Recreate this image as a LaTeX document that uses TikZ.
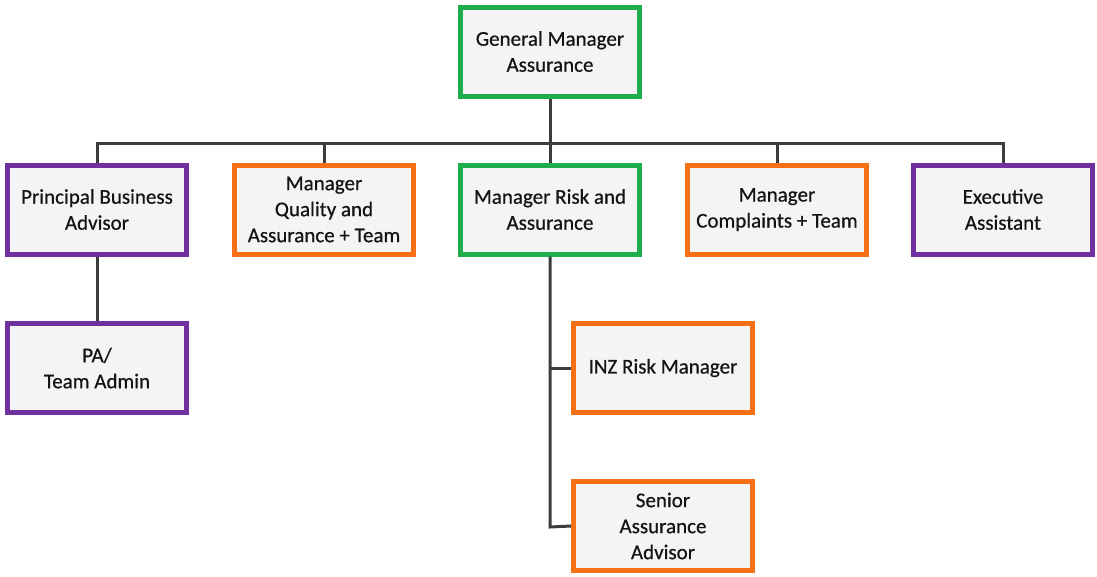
\documentclass[tikz,border=0pt]{standalone}
\usepackage{fontspec}
\setmainfont{Carlito}
\newfontfamily\boxfont[FakeBold=0.6]{Carlito}
\usetikzlibrary{shadows}
\definecolor{gmgreen}{RGB}{30,172,76}
\definecolor{mgorange}{RGB}{245,112,20}
\definecolor{mgpurple}{RGB}{112,48,160}
\definecolor{boxfill}{RGB}{244,244,244}
\definecolor{linegray}{RGB}{60,60,60}
\definecolor{textdark}{RGB}{20,20,20}
\tikzset{
  x=1pt, y=-1pt,
  box/.style={draw, line width=5pt, fill=boxfill, minimum width=179pt, minimum height=89pt,
    align=center, inner sep=2pt, text=textdark, font=\boxfont\fontsize{21}{26}\selectfont,
    drop shadow={shadow xshift=2pt, shadow yshift=-2pt, opacity=0.25}},
  gbox/.style={box, draw=gmgreen},
  obox/.style={box, draw=mgorange},
  pbox/.style={box, draw=mgpurple},
  conn/.style={draw=linegray, line width=3pt}
}
\begin{document}
\begin{tikzpicture}
\useasboundingbox (0,0) rectangle (1097,576);
\node[gbox] (gm) at (550,51.5) {General Manager\\Assurance};
\node[pbox] (pba) at (97,209.5) {Principal Business\\Advisor};
\node[obox] (mqa) at (324,209.5) {Manager\\Quality and\\Assurance + Team};
\node[gbox] (mra) at (550,209.5) {Manager Risk and\\Assurance};
\node[obox] (mc) at (777,209.5) {Manager\\Complaints + Team};
\node[pbox] (ea) at (1003,209.5) {Executive\\Assistant};
\node[pbox] (pa) at (97,368) {PA/\\Team Admin};
\node[obox] (inz) at (663,368) {INZ Risk Manager};
\node[obox] (saa) at (663,526) {Senior\\Assurance\\Advisor};
\coordinate (bus) at (550,143);
\coordinate (spine) at (550,527);
\draw[conn] (gm.south) -- (bus);
\draw[conn, line join=miter] (pba.north) |- (bus) -| (ea.north);
\draw[conn] (mqa.north) -- (mqa.north |- bus);
\draw[conn] (mra.north) -- (bus);
\draw[conn] (mc.north) -- (mc.north |- bus);
\draw[conn] (pba.south) -- (pa.north);
\draw[conn] (mra.south) -- (spine) -- (saa.west);
\draw[conn] (mra.south |- inz.west) -- (inz.west);
\end{tikzpicture}
\end{document}
